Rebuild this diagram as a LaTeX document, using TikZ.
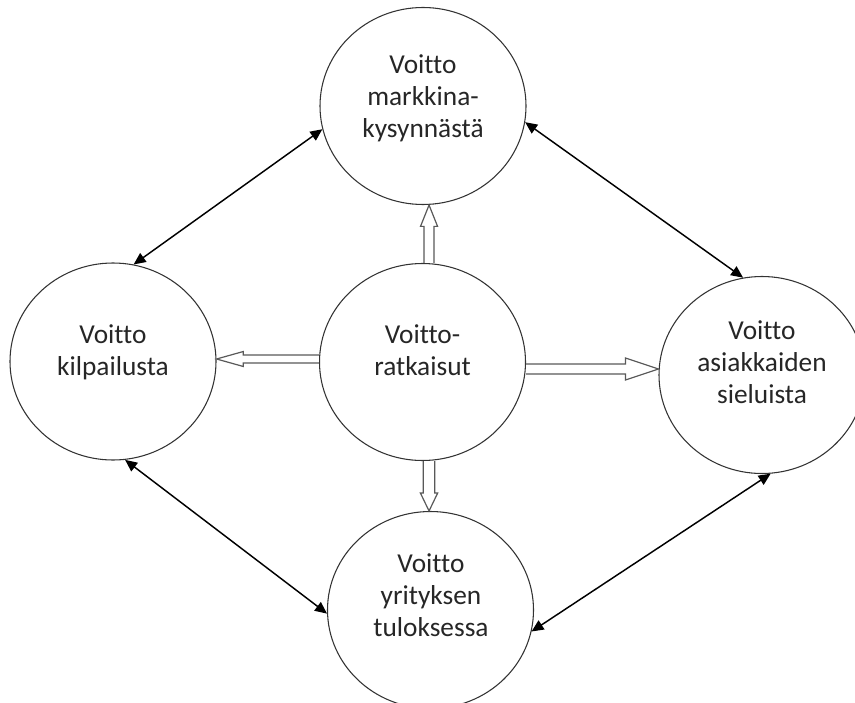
\documentclass[tikz,border=0pt]{standalone}
\usepackage{fontspec}
\setmainfont{Carlito}[Ligatures={NoCommon}]
\usetikzlibrary{shapes.geometric,arrows.meta,calc}
\begin{document}
\begin{tikzpicture}[x=0.75pt,y=-0.75pt,
  circ/.style={ellipse,draw=black!80,line width=0.8pt,minimum width=154.5pt,minimum height=147.75pt,inner sep=0pt},
  lbl/.style={align=center,font=\fontsize{20.5}{24}\selectfont,text=black!85},
  dbl/.style={line width=1.1pt,{Triangle[length=9pt,width=8pt]}-{Triangle[length=9pt,width=8pt]}},
  hollow/.style={draw=black!65,line width=0.9pt,fill=white}]
\useasboundingbox (0,0) rectangle (855,702);
% circles
\node[circ] (top) at (423,106) {};
\node[circ] (left) at (113,361.5) {};
\node[circ] (right) at (762,375) {};
\node[circ] (bot) at (430.5,610) {};
\node[circ] (ctr) at (422.5,362) {};
% labels
\node[lbl] (tTop) at (423,98) {Voitto\\markkina-\\kysynnästä};
\node[lbl] (tLeft) at (113,352) {Voitto\\kilpailusta};
\node[lbl] (tRight) at (762,362) {Voitto\\asiakkaiden\\sieluista};
\node[lbl] (tBot) at (431,595) {Voitto\\yrityksen\\tuloksessa};
\node[lbl] (tCtr) at (422.5,350) {Voitto-\\ratkaisut};
% double-headed arrows
\draw[dbl] (top.193) -- (left.78);
\draw[dbl] (top.351) -- (right.101);
\draw[dbl] (left.277) -- (bot.182);
\draw[dbl] (right.275) -- (bot.348);
% hollow block arrows
\draw[hollow] let \p1=(ctr.north), \p2=(top.south) in
  (\x1+1.15pt,\y1) -- (\x1+1.15pt,\y2-16pt) -- (\x1-1.5pt,\y2-16pt) -- (\x1+4.9pt,\y2)
  -- (\x1+11.3pt,\y2-16pt) -- (\x1+8.65pt,\y2-16pt) -- (\x1+8.65pt,\y1);
\draw[hollow] let \p1=(ctr.south), \p2=(bot.north) in
  (\x1+0.6pt,\y1) -- (\x1+0.6pt,\y2+13.5pt) -- (\x1-1.6pt,\y2+13.5pt) -- (\x1+4.9pt,\y2)
  -- (\x1+11.4pt,\y2+13.5pt) -- (\x1+9.2pt,\y2+13.5pt) -- (\x1+9.2pt,\y1);
\draw[hollow] let \p1=(ctr.west), \p2=(left.east) in
  (\x1,\y1+5.25pt) -- (\x2+20pt,\y1+5.25pt) -- (\x2+20pt,\y1+7.85pt) -- (\x2,\y1+2.25pt)
  -- (\x2+20pt,\y1-3.35pt) -- (\x2+20pt,\y1-0.75pt) -- (\x1,\y1-0.75pt);
\draw[hollow] let \p1=(ctr.east), \p2=(right.west) in
  (\x1,\y1-1.5pt) -- (\x2-24.75pt,\y1-1.5pt) -- (\x2-24.75pt,\y1+3pt) -- (\x2,\y1-5.25pt)
  -- (\x2-24.75pt,\y1-13.5pt) -- (\x2-24.75pt,\y1-9pt) -- (\x1,\y1-9pt);
\end{tikzpicture}
\end{document}
